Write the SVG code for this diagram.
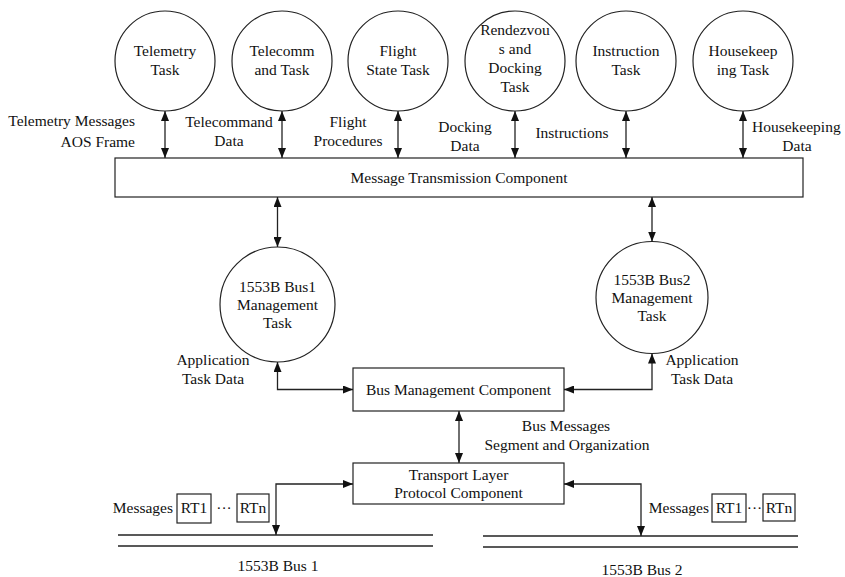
<svg xmlns="http://www.w3.org/2000/svg" width="845" height="577" viewBox="0 0 845 577">
<style>
text{font-family:"Liberation Serif","Times New Roman",serif;font-size:15.5px;fill:#111}
.c{text-anchor:middle}
.r{text-anchor:end}
.node circle,.node rect{fill:#fff;stroke:#222;stroke-width:1.2}
.conn line,.conn path{fill:none;stroke:#222;stroke-width:1.3}
.bus{stroke:#222;stroke-width:1.3}
.small rect{fill:#fff;stroke:#222;stroke-width:1.2}
</style>
<defs>
<marker id="ah" markerUnits="userSpaceOnUse" markerWidth="10" markerHeight="8" refX="10" refY="4" orient="auto-start-reverse">
<path d="M0,0 L10,4 L0,8 z" fill="#111"/>
</marker>
</defs>
<rect width="845" height="577" fill="#fff"/>

<g id="telemetry" class="node"><circle cx="165" cy="61" r="50"/><text class="c" x="165" y="56">Telemetry</text><text class="c" x="165" y="75">Task</text></g>
<g id="telecommand" class="node"><circle cx="282" cy="61" r="50"/><text class="c" x="282" y="56">Telecomm</text><text class="c" x="282" y="75">and Task</text></g>
<g id="flight" class="node"><circle cx="398" cy="61" r="50"/><text class="c" x="398" y="56">Flight</text><text class="c" x="398" y="75">State Task</text></g>
<g id="rendezvous" class="node"><circle cx="515" cy="61" r="50"/><text class="c" x="515" y="35">Rendezvou</text><text class="c" x="515" y="54">s and</text><text class="c" x="515" y="73">Docking</text><text class="c" x="515" y="92">Task</text></g>
<g id="instruction" class="node"><circle cx="626" cy="61" r="50"/><text class="c" x="626" y="56">Instruction</text><text class="c" x="626" y="75">Task</text></g>
<g id="housekeeping" class="node"><circle cx="743" cy="61" r="50"/><text class="c" x="743" y="56">Housekeep</text><text class="c" x="743" y="75">ing Task</text></g>

<g id="mtc" class="node"><rect x="115" y="158" width="688" height="39"/><text class="c" x="459" y="183">Message Transmission Component</text></g>

<g id="bus1mgmt" class="node"><circle cx="277.5" cy="304.5" r="57.5"/><text class="c" x="277.5" y="292">1553B Bus1</text><text class="c" x="277.5" y="310">Management</text><text class="c" x="277.5" y="328">Task</text></g>
<g id="bus2mgmt" class="node"><circle cx="652" cy="297.5" r="56"/><text class="c" x="652" y="285">1553B Bus2</text><text class="c" x="652" y="303">Management</text><text class="c" x="652" y="321">Task</text></g>

<g id="bmc" class="node"><rect x="353" y="368" width="211" height="43"/><text class="c" x="458.5" y="395">Bus Management Component</text></g>
<g id="tlpc" class="node"><rect x="353" y="463" width="211" height="41"/><text class="c" x="458.5" y="480">Transport Layer</text><text class="c" x="458.5" y="498">Protocol Component</text></g>

<g id="bus1" class="node">
<line class="bus" x1="118" y1="535" x2="433" y2="535"/><line class="bus" x1="118" y1="546" x2="433" y2="546"/>
<text class="c" x="278" y="571">1553B Bus 1</text>
</g>
<g id="bus2" class="node">
<line class="bus" x1="483" y1="536" x2="798" y2="536"/><line class="bus" x1="483" y1="547" x2="798" y2="547"/>
<text class="c" x="642" y="575">1553B Bus 2</text>
</g>

<g id="rt-left" class="small">
<text class="r" x="173" y="513">Messages</text>
<rect x="177" y="494" width="34" height="29"/><text class="c" x="194" y="513">RT1</text>
<text class="c" x="224" y="513">···</text>
<rect x="237" y="494" width="32" height="28"/><text class="c" x="253" y="513">RTn</text>
</g>
<g id="rt-right" class="small">
<text class="r" x="709" y="513">Messages</text>
<rect x="712" y="494" width="34" height="28"/><text class="c" x="729" y="513">RT1</text>
<text class="c" x="754.5" y="513">···</text>
<rect x="763" y="494" width="32" height="27"/><text class="c" x="779" y="513">RTn</text>
</g>

<g id="connectors" class="conn">
<line x1="165" y1="111" x2="165" y2="158" marker-start="url(#ah)" marker-end="url(#ah)"/>
<line x1="282" y1="111" x2="282" y2="158" marker-start="url(#ah)" marker-end="url(#ah)"/>
<line x1="398" y1="111" x2="398" y2="158" marker-start="url(#ah)" marker-end="url(#ah)"/>
<line x1="515" y1="111" x2="515" y2="158" marker-start="url(#ah)" marker-end="url(#ah)"/>
<line x1="626" y1="111" x2="626" y2="158" marker-start="url(#ah)" marker-end="url(#ah)"/>
<line x1="743" y1="111" x2="743" y2="158" marker-start="url(#ah)" marker-end="url(#ah)"/>
<line x1="277.5" y1="197" x2="277.5" y2="247" marker-start="url(#ah)" marker-end="url(#ah)"/>
<line x1="652" y1="197" x2="652" y2="241.5" marker-start="url(#ah)" marker-end="url(#ah)"/>
<path d="M277.5,362 V389.5 H353" marker-start="url(#ah)" marker-end="url(#ah)"/>
<path d="M652,353.5 V389.5 H564" marker-start="url(#ah)" marker-end="url(#ah)"/>
<line x1="459" y1="411" x2="459" y2="463" marker-start="url(#ah)" marker-end="url(#ah)"/>
<path d="M353,484 H276 V535" marker-start="url(#ah)" marker-end="url(#ah)"/>
<path d="M564,484 H641 V536" marker-start="url(#ah)" marker-end="url(#ah)"/>
</g>

<g id="labels">
<text class="r" x="135" y="126">Telemetry Messages</text>
<text class="r" x="135" y="147">AOS Frame</text>
<text class="c" x="229" y="127">Telecommand</text>
<text class="c" x="229" y="146">Data</text>
<text class="c" x="348" y="127">Flight</text>
<text class="c" x="348" y="146">Procedures</text>
<text class="c" x="465" y="132">Docking</text>
<text class="c" x="465" y="151">Data</text>
<text class="c" x="572" y="138">Instructions</text>
<text x="752" y="132">Housekeeping</text>
<text class="c" x="797" y="151">Data</text>
<text class="c" x="213" y="365">Application</text>
<text class="c" x="213" y="384">Task Data</text>
<text class="c" x="702" y="365">Application</text>
<text class="c" x="702" y="384">Task Data</text>
<text class="c" x="566" y="431">Bus Messages</text>
<text class="c" x="567" y="450">Segment and Organization</text>
</g>
</svg>
